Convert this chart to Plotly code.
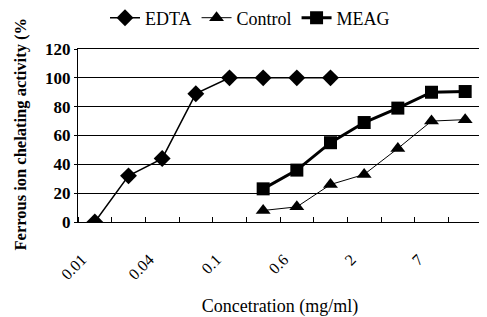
import plotly.graph_objects as go

concentrations = ["0.01", "0.02", "0.04", "0.08", "0.1", "0.4", "0.6", "1", "2", "4", "7", "10"]
shown_labels = ["0.01", "0.04", "0.1", "0.6", "2", "7"]
edta = [0, 32, 44, 89, 100, 100, 100, 100, None, None, None, None]
control = [None, None, None, None, None, 8, 10.5, 26, 33, 51, 70, 71]
meag = [None, None, None, None, None, 23, 36, 55, 69, 79, 90, 90.5]

pos = list(range(len(concentrations)))
tickpos = [pos[concentrations.index(l)] for l in shown_labels]

FONT = "Liberation Serif, Times New Roman, serif"

# page body has an 8px default margin, so the figure is drawn 8px smaller
W, H = 479, 309
L, T, R, B = 70, 41, 5, 95
PW, PH = W - L - R, H - T - B
PLOT_BOTTOM = H - B

fig = go.Figure()
fig.add_trace(go.Scatter(x=pos, y=edta, name="EDTA", mode="lines+markers",
                         line=dict(color="black", width=1.5),
                         marker=dict(symbol="diamond", size=13, color="black")))
fig.add_trace(go.Scatter(x=pos, y=control, name="Control", mode="lines+markers",
                         line=dict(color="black", width=1),
                         marker=dict(symbol="triangle-up", size=13, color="black")))
fig.add_trace(go.Scatter(x=pos, y=meag, name="MEAG", mode="lines+markers",
                         line=dict(color="black", width=3),
                         marker=dict(symbol="square", size=13, color="black")))

fig.update_layout(
    width=W, height=H,
    margin=dict(l=L, r=R, t=T, b=B, autoexpand=False),
    paper_bgcolor="white", plot_bgcolor="white",
    font=dict(family=FONT, color="black", size=17),
    showlegend=True,
    legend=dict(orientation="h", x=(242 - L) / PW, xanchor="center",
                y=(PLOT_BOTTOM - 10) / PH, yanchor="middle", font=dict(size=18, family=FONT),
                itemwidth=30, bgcolor="rgba(0,0,0,0)"),
    xaxis=dict(range=[-0.5, len(pos) - 0.5], tickmode="array", tickvals=tickpos,
               ticktext=shown_labels, tickangle=-45, ticks="", showgrid=False,
               showline=True, linecolor="black", linewidth=1, mirror=True,
               zeroline=False, automargin=False,
               ticklabelstandoff=21, ticklabelshift=-13,
               tickfont=dict(size=16, family=FONT),
               minor=dict(tickmode="array",
                          tickvals=[p - 0.5 for p in pos] + [len(pos) - 0.5],
                          ticks="inside", ticklen=5, tickcolor="black", showgrid=False),
               title=dict(text="Concetration (mg/ml)", font=dict(size=18, family=FONT),
                          standoff=27)),
    yaxis=dict(range=[0, 120], dtick=20, showgrid=True, gridcolor="black", gridwidth=1,
               showline=True, linecolor="black", linewidth=1, mirror=True,
               zeroline=False, ticks="outside", ticklen=3, tickcolor="black",
               automargin=False,
               tickfont=dict(size=17, family=FONT, weight="bold")),
)

fig.add_annotation(text="<b>Ferrous ion chelating activity (%</b>", textangle=-90,
                   xref="paper", yref="paper", x=(12 - L) / PW, y=(PLOT_BOTTOM - 245) / PH,
                   xanchor="center", yanchor="bottom", showarrow=False,
                   font=dict(size=16.5, family=FONT))

fig.write_html("out.html")
